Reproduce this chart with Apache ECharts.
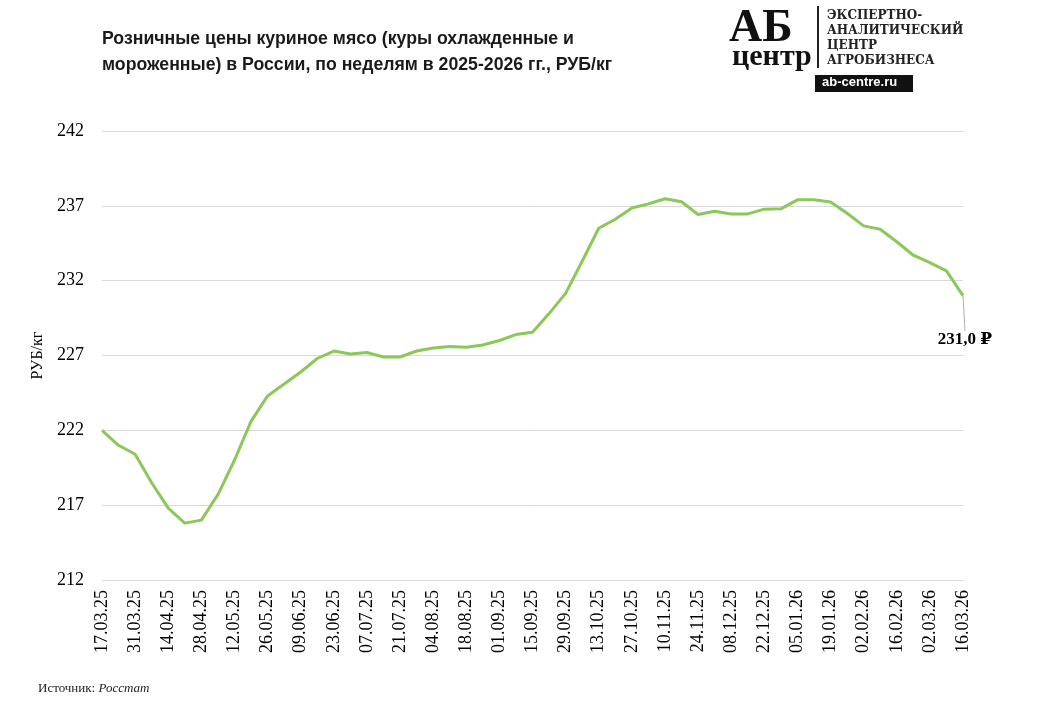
<!DOCTYPE html>
<html>
<head>
<meta charset="utf-8">
<script src="https://cdn.jsdelivr.net/npm/echarts@6/dist/echarts.min.js"></script>
<style>
  html, body { margin: 0; padding: 0; background: #fff; }
  #chart { width: 1048px; height: 708px; }
</style>
</head>
<body>
<div id="chart"></div>
<script>
// Недели (понедельники) 17.03.25 – 16.03.26
const weeks = [
  '17.03.25','24.03.25','31.03.25','07.04.25','14.04.25','21.04.25','28.04.25','05.05.25','12.05.25','19.05.25',
  '26.05.25','02.06.25','09.06.25','16.06.25','23.06.25','30.06.25','07.07.25','14.07.25','21.07.25','28.07.25',
  '04.08.25','11.08.25','18.08.25','25.08.25','01.09.25','08.09.25','15.09.25','22.09.25','29.09.25','06.10.25',
  '13.10.25','20.10.25','27.10.25','03.11.25','10.11.25','17.11.25','24.11.25','01.12.25','08.12.25','15.12.25',
  '22.12.25','29.12.25','05.01.26','12.01.26','19.01.26','26.01.26','02.02.26','09.02.26','16.02.26','23.02.26',
  '02.03.26','09.03.26','16.03.26'
];

// Цена, руб/кг
const prices = [
  222.0, 221.0, 220.4, 218.5, 216.8, 215.8, 216.0, 217.7, 220.0, 222.6,
  224.3, 225.1, 225.9, 226.8, 227.3, 227.1, 227.2, 226.9, 226.9, 227.3,
  227.5, 227.6, 227.55, 227.7, 228.0, 228.4, 228.55, 229.8, 231.15, 233.3,
  235.5, 236.1, 236.85, 237.13, 237.47, 237.27, 236.42, 236.64, 236.46, 236.46,
  236.78, 236.8, 237.4, 237.4, 237.25, 236.5, 235.66, 235.44, 234.6, 233.7,
  233.2, 232.65, 231.0
];

const yTicks = [212, 217, 222, 227, 232, 237, 242];

const chart = echarts.init(document.getElementById('chart'));
const serif = '"Liberation Serif", "DejaVu Serif", serif';

// подпись только у последней точки
const lastIdx = prices.length - 1;
const seriesData = prices.map((v, i) => {
  if (i !== lastIdx) return { value: v, symbol: 'none' };
  return {
    value: v,
    symbol: 'circle',
    symbolSize: 1,
    label: {
      show: true,
      position: 'bottom',
      formatter: p => p.value.toFixed(1).replace('.', ',') + ' ₽',
      fontFamily: serif,
      fontWeight: 'bold',
      fontSize: 17,
      color: '#000'
    }
  };
});

const option = {
  animation: false,
  backgroundColor: '#fff',
  title: {
    text: 'Розничные цены куриное мясо (куры охлажденные и\nмороженные) в России, по неделям в 2025-2026 гг., РУБ/кг',
    left: 97,
    top: 21,
    textStyle: {
      fontFamily: '"Liberation Sans", Arial, sans-serif',
      fontWeight: 'bold',
      fontSize: 17.7,
      lineHeight: 26,
      color: '#1a1a1a'
    }
  },
  grid: { left: 102, right: 85, top: 131, bottom: 128 },
  xAxis: {
    type: 'category',
    data: weeks,
    boundaryGap: false,
    axisLine: { show: false },
    axisTick: { show: false },
    axisLabel: {
      interval: 1,
      rotate: 90,
      margin: 10,
      fontFamily: serif,
      fontSize: 18,
      color: '#000'
    }
  },
  yAxis: {
    type: 'value',
    min: yTicks[0],
    max: yTicks[yTicks.length - 1],
    interval: 5,
    name: 'РУБ/кг',
    nameLocation: 'middle',
    nameGap: 48,
    nameRotate: 90,
    nameTextStyle: { fontFamily: serif, fontSize: 16, color: '#000' },
    axisLine: { show: false },
    axisTick: { show: false },
    axisLabel: { fontFamily: serif, fontSize: 18, color: '#000', margin: 18 },
    splitLine: { lineStyle: { color: '#d9d9d9', width: 1 } }
  },
  series: [{
    type: 'line',
    data: seriesData,
    showSymbol: true,
    smooth: false,
    lineStyle: { color: '#8cc759', width: 3 },
    itemStyle: { color: '#8cc759' },
    labelLayout: { dx: 2, dy: 30 },
    labelLine: { show: true, lineStyle: { color: '#b0b0b0', width: 1 } }
  }],
  graphic: [
    // логотип
    {
      type: 'text', left: 729, top: 6,
      style: { text: 'АБ', font: 'bold 46px "Liberation Serif", serif', fill: '#111' }
    },
    {
      type: 'text', left: 732, top: 42,
      style: { text: 'центр', font: 'bold 30px "Liberation Serif", serif', fill: '#111' }
    },
    {
      type: 'line', shape: { x1: 818, y1: 6, x2: 818, y2: 68 },
      style: { stroke: '#222', lineWidth: 2 }
    },
    {
      type: 'text', left: 827, top: 8,
      style: {
        text: 'ЭКСПЕРТНО-\nАНАЛИТИЧЕСКИЙ\nЦЕНТР\nАГРОБИЗНЕСА',
        font: 'bold 12px "DejaVu Serif", serif',
        lineHeight: 15,
        fill: '#222'
      }
    },
    {
      type: 'rect', shape: { x: 815, y: 75, width: 98, height: 17 },
      style: { fill: '#111' }
    },
    {
      type: 'text', left: 822, top: 76,
      style: { text: 'ab-centre.ru', font: 'bold 13px "Liberation Sans", Arial, sans-serif', fill: '#fff' }
    },
    // источник
    {
      type: 'text', left: 38, top: 682,
      style: {
        text: '{a|Источник: }{b|Росстат}',
        rich: {
          a: { fontFamily: serif, fontSize: 13, fill: '#222' },
          b: { fontFamily: serif, fontSize: 13, fontStyle: 'italic', fill: '#222' }
        }
      }
    }
  ]
};

chart.setOption(option);
window.addEventListener('resize', () => chart.resize());
</script>
</body>
</html>
